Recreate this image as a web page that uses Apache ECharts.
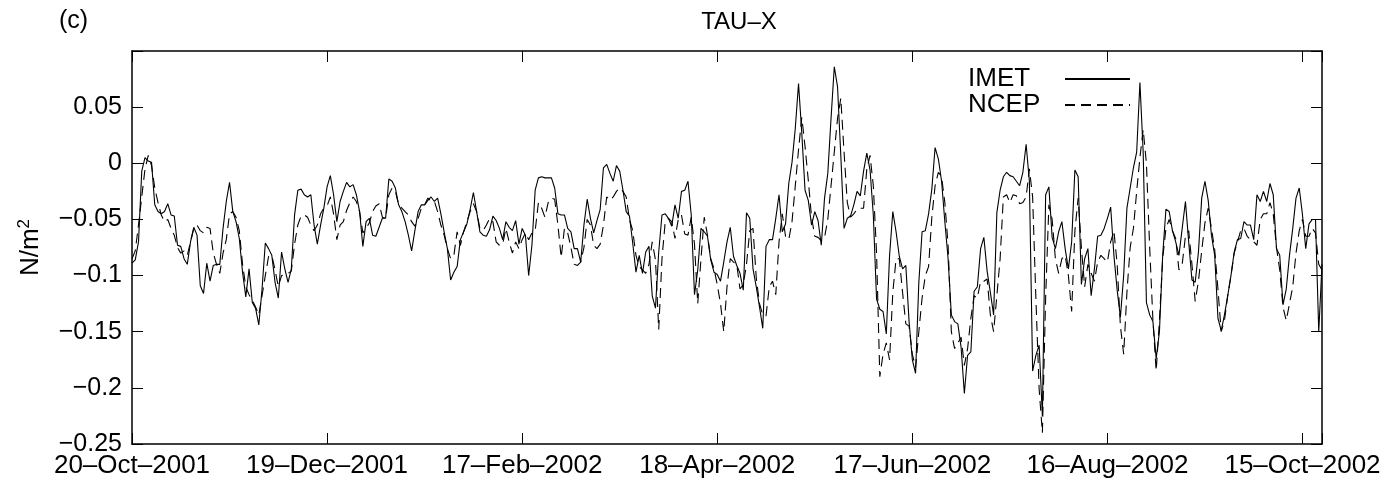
<!DOCTYPE html>
<html>
<head>
<meta charset="utf-8">
<title>TAU-X</title>
<script src="https://cdn.jsdelivr.net/npm/echarts@6/dist/echarts.min.js"></script>
<style>
  html, body { margin: 0; padding: 0; background: #fff; }
  #chart { width: 1398px; height: 488px; }
</style>
</head>
<body>
<div id="chart"></div>
<script>
// one value per day, day 0 = 20-Oct-2001
const firstDay = 0;
const lastDay = 366;

const xTickDays = [0, 60, 120, 180, 240, 300, 360];
const xTickLabels = ['20–Oct–2001', '19–Dec–2001', '17–Feb–2002', '18–Apr–2002',
  '17–Jun–2002', '16–Aug–2002', '15–Oct–2002'];

const yTickValues = [-0.25, -0.2, -0.15, -0.1, -0.05, 0, 0.05];
const yTickLabels = ['−0.25', '−0.2', '−0.15', '−0.1', '−0.05', '0', '0.05'];

const seriesNames = ['IMET', 'NCEP'];

const imet = [
  -0.089, -0.086, -0.070, -0.007, 0.005, 0.002, 0.001, -0.037, -0.043, -0.045,
  -0.043, -0.036, -0.046, -0.047, -0.073, -0.074, -0.085, -0.090, -0.070, -0.057,
  -0.064, -0.109, -0.116, -0.089, -0.105, -0.091, -0.090, -0.090, -0.058, -0.034,
  -0.017, -0.043, -0.052, -0.067, -0.097, -0.119, -0.094, -0.124, -0.129, -0.144,
  -0.112, -0.071, -0.076, -0.082, -0.106, -0.120, -0.079, -0.094, -0.106, -0.094,
  -0.046, -0.024, -0.023, -0.028, -0.030, -0.028, -0.055, -0.072, -0.055, -0.040,
  -0.021, -0.011, -0.028, -0.052, -0.034, -0.025, -0.017, -0.021, -0.019, -0.028,
  -0.043, -0.074, -0.052, -0.049, -0.064, -0.065, -0.057, -0.049, -0.049, -0.014,
  -0.016, -0.022, -0.037, -0.043, -0.052, -0.064, -0.078, -0.060, -0.043, -0.037,
  -0.037, -0.033, -0.030, -0.034, -0.031, -0.045, -0.061, -0.076, -0.104, -0.097,
  -0.092, -0.068, -0.061, -0.054, -0.041, -0.026, -0.043, -0.061, -0.064, -0.065,
  -0.059, -0.047, -0.051, -0.058, -0.068, -0.052, -0.057, -0.060, -0.051, -0.072,
  -0.058, -0.064, -0.100, -0.073, -0.024, -0.013, -0.012, -0.013, -0.013, -0.013,
  -0.022, -0.045, -0.046, -0.046, -0.058, -0.061, -0.076, -0.076, -0.088, -0.055,
  -0.032, -0.049, -0.062, -0.051, -0.041, -0.004, -0.001, -0.009, -0.016, -0.002,
  -0.007, -0.024, -0.043, -0.047, -0.071, -0.097, -0.082, -0.098, -0.079, -0.074,
  -0.118, -0.129, -0.079, -0.046, -0.045, -0.049, -0.056, -0.037, -0.049, -0.025,
  -0.024, -0.016, -0.046, -0.117, -0.095, -0.058, -0.061, -0.065, -0.086, -0.097,
  -0.099, -0.105, -0.088, -0.070, -0.057, -0.083, -0.091, -0.098, -0.113, -0.044,
  -0.049, -0.094, -0.110, -0.128, -0.147, -0.074, -0.068, -0.068, -0.049, -0.028,
  -0.061, -0.054, -0.018, 0.001, 0.031, 0.071, 0.027, -0.024, -0.033, -0.055,
  -0.043, -0.051, -0.073, -0.031, -0.009, 0.040, 0.086, 0.068, 0.007, -0.058,
  -0.049, -0.047, -0.037, -0.025, -0.029, -0.007, 0.009, -0.006, -0.046, -0.121,
  -0.130, -0.132, -0.152, -0.082, -0.043, -0.061, -0.083, -0.094, -0.091, -0.141,
  -0.175, -0.187, -0.106, -0.061, -0.060, -0.045, -0.023, 0.014, 0.004, -0.016,
  -0.052, -0.085, -0.135, -0.141, -0.143, -0.164, -0.205, -0.171, -0.168, -0.114,
  -0.110, -0.076, -0.066, -0.096, -0.115, -0.135, -0.044, -0.024, -0.012, -0.008,
  -0.011, -0.012, -0.016, -0.020, -0.008, 0.017, -0.016, -0.185, -0.171, -0.162,
  -0.225, -0.028, -0.021, -0.066, -0.076, -0.061, -0.052, -0.076, -0.094, -0.070,
  -0.006, -0.012, -0.108, -0.085, -0.076, -0.118, -0.094, -0.065, -0.064, -0.058,
  -0.049, -0.039, -0.082, -0.113, -0.137, -0.100, -0.040, -0.022, -0.004, 0.010,
  0.072, 0.010, -0.124, -0.135, -0.141, -0.174, -0.150, -0.082, -0.041, -0.043,
  -0.060, -0.070, -0.082, -0.058, -0.034, -0.070, -0.104, -0.106, -0.079, -0.031,
  -0.016, -0.033, -0.064, -0.082, -0.138, -0.149, -0.135, -0.118, -0.100, -0.079,
  -0.068, -0.067, -0.052, -0.055, -0.055, -0.068, -0.028, -0.034, -0.025, -0.034,
  -0.018, -0.028, -0.076, -0.082, -0.126, -0.112, -0.082, -0.058, -0.031, -0.022,
  -0.046, -0.076, -0.054, -0.050, -0.050, -0.150, -0.090
];

const ncep = [
  -0.085, -0.078, -0.055, -0.030, -0.005, 0.007, -0.002, -0.022, -0.035, -0.046,
  -0.052, -0.050, -0.058, -0.064, -0.075, -0.080, -0.078, -0.082, -0.070, -0.058,
  -0.055, -0.060, -0.062, -0.057, -0.058, -0.080, -0.090, -0.098, -0.080, -0.068,
  -0.045, -0.043, -0.048, -0.060, -0.090, -0.110, -0.117, -0.122, -0.128, -0.135,
  -0.118, -0.100, -0.083, -0.082, -0.095, -0.110, -0.100, -0.099, -0.098, -0.096,
  -0.072, -0.055, -0.047, -0.046, -0.048, -0.055, -0.060, -0.055, -0.045, -0.040,
  -0.038, -0.030, -0.045, -0.068, -0.055, -0.052, -0.042, -0.035, -0.030, -0.034,
  -0.043, -0.062, -0.058, -0.053, -0.043, -0.038, -0.036, -0.048, -0.049, -0.028,
  -0.022, -0.025, -0.037, -0.040, -0.043, -0.046, -0.052, -0.056, -0.049, -0.040,
  -0.037, -0.031, -0.034, -0.034, -0.043, -0.055, -0.064, -0.076, -0.085, -0.082,
  -0.061, -0.073, -0.061, -0.052, -0.043, -0.036, -0.043, -0.058, -0.060, -0.055,
  -0.049, -0.052, -0.070, -0.073, -0.072, -0.058, -0.070, -0.080, -0.070, -0.076,
  -0.068, -0.062, -0.068, -0.062, -0.060, -0.035, -0.040, -0.048, -0.035, -0.031,
  -0.032, -0.055, -0.084, -0.058, -0.062, -0.075, -0.090, -0.091, -0.088, -0.075,
  -0.050, -0.055, -0.073, -0.076, -0.072, -0.055, -0.030, -0.033, -0.030, -0.025,
  -0.022, -0.025, -0.030, -0.050, -0.060, -0.082, -0.092, -0.095, -0.098, -0.090,
  -0.070, -0.086, -0.148, -0.085, -0.052, -0.049, -0.052, -0.067, -0.050, -0.046,
  -0.063, -0.064, -0.048, -0.072, -0.125, -0.085, -0.048, -0.064, -0.085, -0.094,
  -0.108, -0.125, -0.150, -0.110, -0.085, -0.088, -0.090, -0.112, -0.108, -0.090,
  -0.060, -0.058, -0.102, -0.125, -0.135, -0.136, -0.110, -0.105, -0.117, -0.070,
  -0.045, -0.065, -0.068, -0.052, -0.020, 0.012, 0.041, 0.015, -0.015, -0.048,
  -0.065, -0.066, -0.069, -0.066, -0.050, -0.020, 0.010, 0.040, 0.058, 0.010,
  -0.035, -0.048, -0.045, -0.041, -0.040, -0.040, -0.005, 0.007, -0.020, -0.080,
  -0.190, -0.170, -0.160, -0.175, -0.115, -0.085, -0.085, -0.115, -0.143, -0.145,
  -0.170, -0.182, -0.150, -0.120, -0.100, -0.092, -0.048, -0.020, -0.008, -0.012,
  -0.035, -0.073, -0.150, -0.165, -0.160, -0.155, -0.180, -0.165, -0.138, -0.118,
  -0.120, -0.105, -0.105, -0.103, -0.135, -0.150, -0.118, -0.085, -0.030, -0.028,
  -0.035, -0.028, -0.029, -0.036, -0.035, -0.030, -0.005, -0.030, -0.120, -0.201,
  -0.240, -0.120, -0.037, -0.050, -0.085, -0.098, -0.085, -0.082, -0.100, -0.132,
  -0.060, -0.031, -0.075, -0.110, -0.090, -0.098, -0.105, -0.088, -0.082, -0.085,
  -0.088, -0.070, -0.060, -0.090, -0.145, -0.170, -0.115, -0.075, -0.058, -0.025,
  0.005, 0.030, 0.000, -0.075, -0.140, -0.185, -0.140, -0.085, -0.058, -0.050,
  -0.060, -0.067, -0.095, -0.090, -0.065, -0.060, -0.090, -0.123, -0.105, -0.078,
  -0.053, -0.040, -0.058, -0.077, -0.112, -0.150, -0.140, -0.118, -0.100, -0.080,
  -0.070, -0.060, -0.058, -0.065, -0.068, -0.070, -0.073, -0.050, -0.045, -0.045,
  -0.035, -0.045, -0.075, -0.095, -0.128, -0.140, -0.125, -0.110, -0.080, -0.060,
  -0.050, -0.065, -0.065, -0.058, -0.062, -0.090, -0.095
];

const fontFamily = '"Liberation Sans", Arial, Helvetica, sans-serif';

function xLabel(v) {
  const i = xTickDays.indexOf(Math.round(v));
  return i >= 0 && Math.abs(v - xTickDays[i]) < 1e-6 ? xTickLabels[i] : '';
}

function yLabel(v) {
  for (let i = 0; i < yTickValues.length; i++) {
    if (Math.abs(v - yTickValues[i]) < 1e-9) return yTickLabels[i];
  }
  return '';
}

function toPoints(values) {
  return values.map((v, i) => [firstDay + i, v]);
}

const chart = echarts.init(document.getElementById('chart'), null, { renderer: 'canvas' });

const axisLine = { show: true, onZero: false, lineStyle: { color: '#000', width: 1.5 } };
const axisTick = { show: true, inside: true, length: 11, lineStyle: { color: '#000', width: 1 } };

const option = {
  animation: false,
  backgroundColor: '#fff',
  title: [
    {
      text: 'TAU–X',
      left: 734,
      top: 5,
      textAlign: 'center',
      textStyle: { fontFamily: fontFamily, fontSize: 24, fontWeight: 'normal', color: '#000' }
    },
    {
      text: '(c)',
      left: 54,
      top: 4,
      textStyle: { fontFamily: fontFamily, fontSize: 25, fontWeight: 'normal', color: '#000' }
    }
  ],
  legend: {
    data: seriesNames,
    orient: 'vertical',
    align: 'right',
    left: 963,
    top: 61,
    itemGap: 0,
    itemWidth: 65,
    itemHeight: 14,
    selectedMode: false,
    lineStyle: { width: 2.2, type: 'inherit' },
    itemStyle: { opacity: 0, borderWidth: 0 },
    formatter: name => '{n|' + name + '}',
    textStyle: {
      fontFamily: fontFamily,
      fontSize: 26,
      color: '#000',
      rich: { n: { width: 92, align: 'left', fontSize: 26, lineHeight: 23, fontFamily: fontFamily } }
    }
  },
  grid: {
    left: 132,
    right: 76,
    top: 51,
    bottom: 44,
    containLabel: false,
    outerBoundsMode: 'none'
  },
  xAxis: [
    {
      type: 'value',
      min: firstDay,
      max: lastDay,
      interval: 60,
      position: 'bottom',
      axisLine: axisLine,
      axisTick: axisTick,
      splitLine: { show: false },
      axisLabel: {
        formatter: xLabel,
        margin: 9,
        fontFamily: fontFamily,
        fontSize: 26,
        color: '#000',
        showMinLabel: true,
        showMaxLabel: true,
        hideOverlap: false
      }
    },
    {
      type: 'value',
      min: firstDay,
      max: lastDay,
      interval: 60,
      position: 'top',
      axisLine: axisLine,
      axisTick: axisTick,
      splitLine: { show: false },
      axisLabel: { show: false }
    }
  ],
  yAxis: [
    {
      type: 'value',
      min: -0.25,
      max: 0.1,
      interval: 0.05,
      position: 'left',
      name: '{b|N/m}{s|2}',
      nameLocation: 'middle',
      nameGap: 86,
      nameRotate: 90,
      nameTextStyle: {
        color: '#000',
        fontFamily: fontFamily,
        rich: {
          b: { fontSize: 26, fontFamily: fontFamily, color: '#000', lineHeight: 30 },
          s: { fontSize: 17, fontFamily: fontFamily, color: '#000', verticalAlign: 'top', lineHeight: 30, padding: [0, 0, 14, 0] }
        }
      },
      axisLine: axisLine,
      axisTick: axisTick,
      splitLine: { show: false },
      axisLabel: {
        formatter: yLabel,
        margin: 10,
        fontFamily: fontFamily,
        fontSize: 25,
        color: '#000',
        showMinLabel: true,
        showMaxLabel: true
      }
    },
    {
      type: 'value',
      min: -0.25,
      max: 0.1,
      interval: 0.05,
      position: 'right',
      axisLine: axisLine,
      axisTick: axisTick,
      splitLine: { show: false },
      axisLabel: { show: false }
    }
  ],
  series: [
    {
      name: seriesNames[0],
      type: 'line',
      xAxisIndex: 0,
      yAxisIndex: 0,
      data: toPoints(imet),
      symbol: 'none',
      showSymbol: false,
      lineStyle: { color: '#000', width: 1.1, type: 'solid' },
      itemStyle: { color: '#000' }
    },
    {
      name: seriesNames[1],
      type: 'line',
      xAxisIndex: 0,
      yAxisIndex: 0,
      data: toPoints(ncep),
      symbol: 'none',
      showSymbol: false,
      lineStyle: { color: '#000', width: 1.1, type: [10, 6] },
      itemStyle: { color: '#000' }
    }
  ]
};

chart.setOption(option);
</script>
</body>
</html>
